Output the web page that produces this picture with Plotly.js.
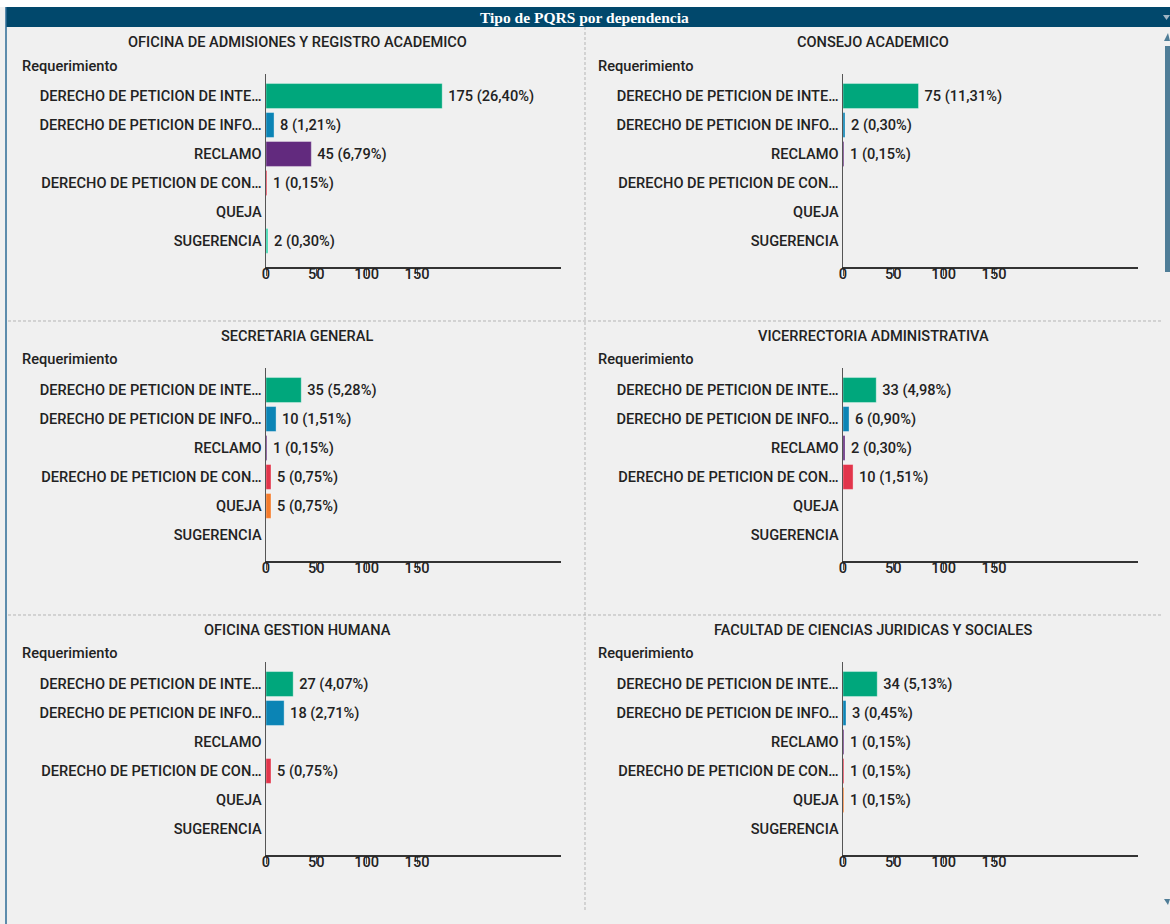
<!DOCTYPE html>
<html>
<head>
<meta charset="utf-8">
<script src="https://cdn.plot.ly/plotly-3.0.1.min.js"></script>
<style>
html,body{margin:0;padding:0;background:#ffffff;}
#chart{width:1170px;height:924px;}
</style>
</head>
<body>
<div id="chart"></div>
<script>
// ---- data ----
const chartTitle = 'Tipo de PQRS por dependencia';
const axisLabel = 'Requerimiento';
const categories = [
  'DERECHO DE PETICION DE INTE…',
  'DERECHO DE PETICION DE INFO…',
  'RECLAMO',
  'DERECHO DE PETICION DE CON…',
  'QUEJA',
  'SUGERENCIA'
];
const categoryColors = ['#00a77c', '#0b84b5', '#622a7e', '#e2354b', '#f47c2c', '#36d8ae'];
const dependencies = [
  'OFICINA DE ADMISIONES Y REGISTRO ACADEMICO',
  'CONSEJO ACADEMICO',
  'SECRETARIA GENERAL',
  'VICERRECTORIA ADMINISTRATIVA',
  'OFICINA GESTION HUMANA',
  'FACULTAD DE CIENCIAS JURIDICAS Y SOCIALES'
];
const countsAdmisiones   = [175, 8, 45, 1, null, 2];
const countsConsejo      = [75, 2, 1, null, null, null];
const countsSecretaria   = [35, 10, 1, 5, 5, null];
const countsVicerrectoria= [33, 6, 2, 10, null, null];
const countsGestion      = [27, 18, null, 5, null, null];
const countsFacultad     = [34, 3, 1, 1, 1, null];
const pctAdmisiones   = ['26,40', '1,21', '6,79', '0,15', null, '0,30'];
const pctConsejo      = ['11,31', '0,30', '0,15', null, null, null];
const pctSecretaria   = ['5,28', '1,51', '0,15', '0,75', '0,75', null];
const pctVicerrectoria= ['4,98', '0,90', '0,30', '1,51', null, null];
const pctGestion      = ['4,07', '2,71', null, '0,75', null, null];
const pctFacultad     = ['5,13', '0,45', '0,15', '0,15', '0,15', null];
const tickValues = [0, 50, 100, 150];

const panelCounts = [countsAdmisiones, countsConsejo, countsSecretaria, countsVicerrectoria, countsGestion, countsFacultad];
const panelPct = [pctAdmisiones, pctConsejo, pctSecretaria, pctVicerrectoria, pctGestion, pctFacultad];

// ---- layout geometry (pixels) ----
const W = 1170, H = 924;
const FONT = 'Roboto, "Noto Sans", sans-serif';
const FS = 14.6;
const colX = [[266, 561], [843, 1138]];
const rowTop = [74, 368, 662];
const plotH = 193;
const titleY = [42, 336, 630];
const reqY = [66, 359, 653];
const colCenter = [297, 873];
const colLeftText = [20, 596];

const px = x => x / W;
const py = y => 1 - y / H;

const traces = [];
const layout = {
  width: W, height: H,
  margin: {l: 0, r: 0, t: 0, b: 0},
  paper_bgcolor: '#f0f0f0',
  plot_bgcolor: 'rgba(0,0,0,0)',
  showlegend: false,
  font: {family: FONT, size: FS, color: '#222222'},
  bargap: 0.14,
  annotations: [],
  shapes: []
};

for (let i = 0; i < 6; i++) {
  const row = Math.floor(i / 2), col = i % 2;
  const n = i + 1;
  const xa = 'xaxis' + (n === 1 ? '' : n);
  const ya = 'yaxis' + (n === 1 ? '' : n);
  const counts = panelCounts[i];
  const pct = panelPct[i];
  traces.push({
    type: 'bar',
    orientation: 'h',
    x: counts,
    y: categories,
    xaxis: 'x' + (n === 1 ? '' : n),
    yaxis: 'y' + (n === 1 ? '' : n),
    marker: {color: categoryColors, line: {color: 'rgba(255,255,255,0.35)', width: 1}},
    text: counts.map((c, k) => c == null ? '' : '\u2009' + c + ' (' + pct[k] + '%)'),
    textposition: 'outside',
    cliponaxis: false,
    textfont: {family: FONT, size: FS, color: '#222222', weight: 500},
    hoverinfo: 'none'
  });
  layout[xa] = {
    domain: [px(colX[col][0]), px(colX[col][1])],
    anchor: 'y' + (n === 1 ? '' : n),
    range: [0, 293],
    tickvals: tickValues,
    ticks: 'outside', ticklen: 7, tickcolor: '#555555', tickwidth: 1,
    ticklabelstandoff: -14,
    showline: true, linecolor: '#333333', linewidth: 1.5,
    showgrid: false, zeroline: false,
    fixedrange: true,
    tickfont: {family: FONT, size: FS, color: '#222222', weight: 500}
  };
  layout[ya] = {
    domain: [py(rowTop[row] + plotH), py(rowTop[row])],
    anchor: 'x' + (n === 1 ? '' : n),
    type: 'category',
    categoryorder: 'array', categoryarray: categories,
    range: [5.9, -0.76],
    showline: true, linecolor: '#555555', linewidth: 1.5,
    showgrid: false, zeroline: false, ticks: '',
    fixedrange: true,
    ticklabelstandoff: 0,
    tickfont: {family: FONT, size: FS, color: '#222222', weight: 500}
  };
  layout.annotations.push({
    xref: 'paper', yref: 'paper', x: px(colCenter[col]), y: py(titleY[row]),
    text: dependencies[i], showarrow: false, xanchor: 'center', yanchor: 'middle',
    font: {family: FONT, size: FS, color: '#222222', weight: 500}
  });
  layout.annotations.push({
    xref: 'paper', yref: 'paper', x: px(colLeftText[col]), y: py(reqY[row]),
    text: axisLabel, showarrow: false, xanchor: 'left', yanchor: 'middle',
    font: {family: FONT, size: FS, color: '#222222', weight: 500}
  });
}

// header bar and frame
layout.shapes.push({type: 'rect', xref: 'paper', yref: 'paper', x0: 0, x1: 1, y0: py(7), y1: 1, fillcolor: '#ffffff', line: {width: 0}, layer: 'below'});
layout.shapes.push({type: 'rect', xref: 'paper', yref: 'paper', x0: px(6), x1: 1, y0: py(27), y1: py(7), fillcolor: '#01486c', line: {width: 0}, layer: 'below'});
layout.shapes.push({type: 'line', xref: 'paper', yref: 'paper', x0: px(6), x1: px(6), y0: 0, y1: py(7), line: {color: '#2d6b96', width: 1.5}});
layout.annotations.push({
  xref: 'paper', yref: 'paper', x: px(584), y: py(17), text: '<b>' + chartTitle + '</b>',
  showarrow: false, xanchor: 'center', yanchor: 'middle',
  font: {family: '"Liberation Serif", "DejaVu Serif", serif', size: 15.5, color: '#ffffff'}
});
// dashed dividers
layout.shapes.push({type: 'line', xref: 'paper', yref: 'paper', x0: px(585), x1: px(585), y0: py(910), y1: py(27), line: {color: '#b5b5b5', width: 1, dash: '3px,2px'}});
[321, 615].forEach(y => layout.shapes.push({type: 'line', xref: 'paper', yref: 'paper', x0: px(8), x1: px(1162), y0: py(y), y1: py(y), line: {color: '#b5b5b5', width: 1, dash: '3px,2px'}}));
// scrollbar
layout.shapes.push({type: 'rect', xref: 'paper', yref: 'paper', x0: px(1165), x1: px(1170), y0: py(272), y1: py(46), fillcolor: '#4f7d97', line: {width: 0}});
layout.shapes.push({type: 'path', xref: 'paper', yref: 'paper', path: `M ${px(1164)} ${py(41)} L ${px(1170)} ${py(41)} L ${px(1168)} ${py(33)} Z`, fillcolor: '#4f7d97', line: {width: 0}});
layout.shapes.push({type: 'path', xref: 'paper', yref: 'paper', path: `M ${px(1164)} ${py(899)} L ${px(1170)} ${py(899)} L ${px(1168)} ${py(905)} Z`, fillcolor: '#4f7d97', line: {width: 0}});
layout.shapes.push({type: 'path', xref: 'paper', yref: 'paper', path: `M ${px(1163)} ${py(15)} L ${px(1170)} ${py(15)} L ${px(1166.5)} ${py(20)} Z`, fillcolor: '#9fb5c4', line: {width: 0}});

Plotly.newPlot('chart', traces, layout, {displayModeBar: false, staticPlot: true});
</script>
</body>
</html>
